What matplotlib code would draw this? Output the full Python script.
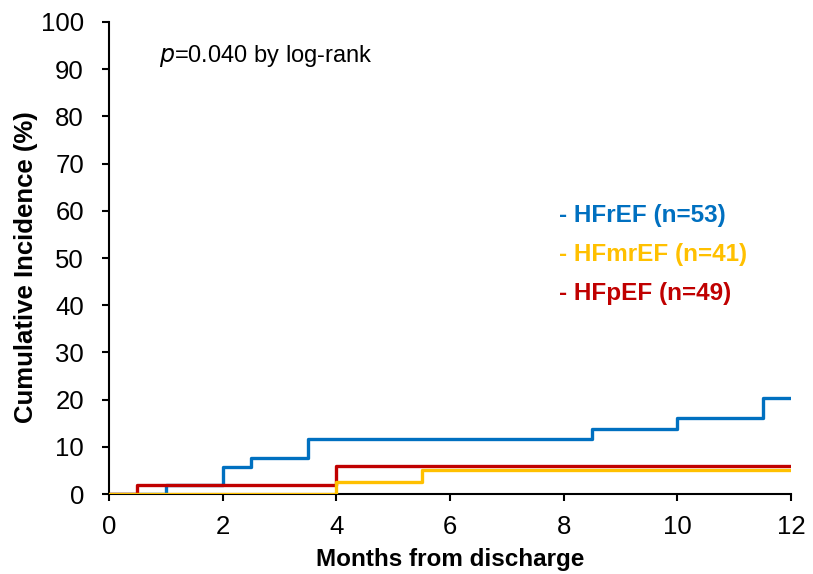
import matplotlib
matplotlib.use("Agg")
import matplotlib.pyplot as plt

plt.rcParams["font.family"] = ["Liberation Sans", "DejaVu Sans"]

# Kaplan-Meier style cumulative incidence (%), step points: (month, value)
hfref_t = [0, 1, 2, 2.5, 3.5, 8.5, 10, 11.5, 12]
hfref_y = [0, 1.9, 5.7, 7.6, 11.7, 13.9, 16.2, 20.4, 20.4]
hfmref_t = [0, 4, 5.5, 12]
hfmref_y = [0, 2.6, 5.2, 5.2]
hfpef_t = [0, 0.5, 4, 12]
hfpef_y = [0, 2.0, 6.0, 6.0]

labels = ["- HFrEF (n=53)", "- HFmrEF (n=41)", "- HFpEF (n=49)"]
colors = ["#0070C0", "#FFC000", "#C00000"]

fig = plt.figure(figsize=(8.13, 5.74), dpi=100)
ax = fig.add_axes([0.134, 0.139, 0.839, 0.823])

ax.step(hfref_t, hfref_y, where="post", color=colors[0], lw=2.4, zorder=2)
ax.step(hfpef_t, hfpef_y, where="post", color=colors[2], lw=2.4, zorder=3)
ax.step(hfmref_t, hfmref_y, where="post", color=colors[1], lw=2.4, zorder=4)

ax.set_xlim(0, 12)
ax.set_ylim(0, 100)
ax.set_xticks(range(0, 13, 2))
ax.set_yticks(range(0, 101, 10))
ax.spines["top"].set_visible(False)
ax.spines["right"].set_visible(False)
for s in ["left", "bottom"]:
    ax.spines[s].set_linewidth(1.5)
ax.tick_params(direction="out", length=5, width=1.5, labelsize=18.5)
ax.tick_params(axis="y", pad=13)
ax.tick_params(axis="x", pad=10)

ax.set_xlabel("Months from discharge", fontsize=17.5, fontweight="bold")
ax.set_ylabel("Cumulative Incidence (%)", fontsize=18.5, fontweight="bold")
ax.xaxis.set_label_coords(0.5, -0.113)
ax.yaxis.set_label_coords(-0.104, 0.481)

ax.text(0.074, 0.927, r"$\it{p}$=0.040 by log-rank", transform=ax.transAxes,
        fontsize=17, va="center", ha="left")

for i, (lab, c) in enumerate(zip(labels, colors)):
    ax.text(0.66, 0.589 - i * 0.082, lab, transform=ax.transAxes, color=c,
            fontsize=17.5, fontweight="bold", va="center", ha="left")

fig.savefig("out.png", dpi=100)
